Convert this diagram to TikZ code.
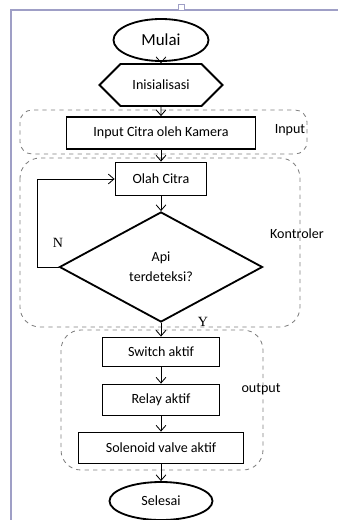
\documentclass[tikz,border=0pt]{standalone}
\usepackage{fontspec}
\setmainfont{Carlito}
\newfontfamily\serifN{Liberation Serif}
\usetikzlibrary{arrows.meta,shapes.geometric,shapes.misc}

\begin{document}
\begin{tikzpicture}[x=0.025cm,y=-0.025cm,
    font=\fontsize{10}{12}\selectfont,
    box/.style={rectangle,draw,line width=1.3pt,inner sep=0pt},
    terminal/.style={ellipse,draw,line width=1.3pt,inner sep=0pt},
    prep/.style={chamfered rectangle,chamfered rectangle xsep=0.33cm,chamfered rectangle ysep=0.4cm,draw,line width=1.3pt,inner sep=0pt},
    decision/.style={diamond,draw,line width=1.3pt,inner sep=0pt,align=center},
    group/.style={draw=gray,dashed,line width=0.6pt,rounded corners=0.5cm},
    flow/.style={-{Straight Barb[length=4pt,width=7pt]},line width=0.6pt}]
    \useasboundingbox (0,0) rectangle (338,520);

    % page edges
    \draw[draw=blue!25!gray!60,line width=0.8pt] (11,520) -- (11,10) -- (338,10);
    \draw[draw=blue!25!gray!60,fill=white,line width=0.5pt] (178,4) rectangle (184,10);

    % groups
    \draw[group,rounded corners=0.3cm] (20,110) rectangle (307,154);
    \draw[group] (20,158) rectangle (300,327);
    \draw[group] (61,330) rectangle (263,470);
    \node (lblinput) at (290,130) {Input};
    \node (lblkontrol) at (297,234) {Kontroler};
    \node (lbloutput) at (261,389) {output};

    % nodes
    \node (mulai) at (161,40) [terminal,minimum width=2.375cm,minimum height=1.05cm,font=\fontsize{12}{14}\selectfont] {Mulai};
    \node (init) at (161,85) [prep,minimum width=3.075cm,minimum height=0.8cm] {Inisialisasi};
    \node (kamera) at (161,133) [box,minimum width=4.725cm,minimum height=0.8cm] {Input Citra oleh Kamera};
    \node (olah) at (161,179) [box,minimum width=2.275cm,minimum height=0.825cm] {Olah Citra};
    \node (api) at (161,267) [decision,minimum width=5.075cm,minimum height=2.75cm] {Api\\[2pt]terdeteksi?};
    \node (switch) at (161,352) [box,minimum width=2.925cm,minimum height=0.725cm] {Switch aktif};
    \node (relay) at (161,400) [box,minimum width=2.925cm,minimum height=0.775cm] {Relay aktif};
    \node (valve) at (161,448) [box,minimum width=4.125cm,minimum height=0.775cm] {Solenoid valve aktif};
    \node (selesai) at (161,501) [terminal,minimum width=2.575cm,minimum height=0.95cm] {Selesai};
    \node (tidak) at (58,243) {\serifN N};
    \node (ya) at (203,322) {\serifN Y};

    % paths
    \draw[flow] (mulai) -- (init);
    \draw[flow] (init) -- (kamera);
    \draw[flow] (kamera) -- (olah);
    \draw[flow] (olah) -- (api);
    \draw[flow] (api.west) -- ++(-21,0) |- (olah.west); % N
    \draw[flow] (api) -- (switch); % Y
    \draw[flow] (switch) -- (relay);
    \draw[flow] (relay) -- (valve);
    \draw[flow] (valve) -- (selesai);

\end{tikzpicture}
\end{document}
